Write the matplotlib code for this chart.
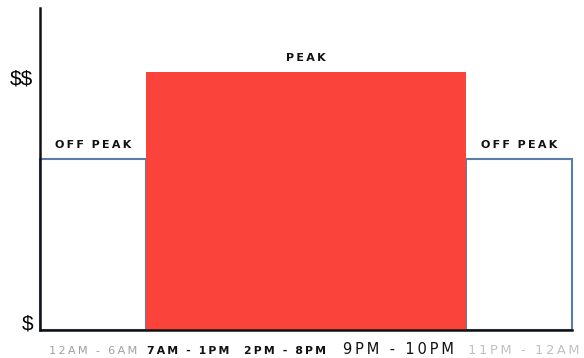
import matplotlib.pyplot as plt

plt.rcParams["text.parse_math"] = False

# time windows along the day, in plot units (0-10)
off_peak_left = (0, 2)
peak_span = (2, 8)
off_peak_right = (8, 10)

off_peak_price = 53
peak_price = 80

price_ticks = [2.5, 78.5]
price_labels = ["$", "$$"]

hour_ticks = [1.0, 2.78, 4.6, 6.73, 9.1]
hour_labels = ["12AM - 6AM", "7AM - 1PM", "2PM - 8PM", "9PM - 10PM", "11PM - 12AM"]
hour_colors = ["#a0a0a0", "#111111", "#111111", "#111111", "#c0c0c0"]
hour_sizes = [8.2, 7.8, 7.8, 10.5, 9.4]
hour_weights = ["normal", "bold", "bold", "normal", "normal"]


def spaced(s, gap="\u2009"):
    return gap.join(s)


def main():
    fig = plt.figure(figsize=(5.84, 3.58), dpi=100)
    ax = fig.add_axes([40 / 584, 28 / 358, 532 / 584, 322 / 358])

    # off peak boxes (outline only)
    for start, end in [off_peak_left, off_peak_right]:
        ax.bar(start, off_peak_price, width=end - start, align="edge",
               fill=False, edgecolor="#5b7ea8", linewidth=1.5, clip_on=False)

    # peak block
    ax.bar(peak_span[0], peak_price, width=peak_span[1] - peak_span[0],
           align="edge", color="#fa433b", linewidth=0)

    ax.set_xlim(0, 10)
    ax.set_ylim(0, 100)

    for sp in ["top", "right"]:
        ax.spines[sp].set_visible(False)
    for sp in ["left", "bottom"]:
        ax.spines[sp].set_linewidth(1.8)
        ax.spines[sp].set_color("#111111")
        ax.spines[sp].set_zorder(5)

    ax.set_yticks(price_ticks, price_labels)
    ax.tick_params(axis="y", length=0, pad=5, labelsize=15)
    for t in ax.get_yticklabels():
        t.set_family("Liberation Sans")

    # all hour labels share one baseline, like the original
    ax.set_xticks(hour_ticks, [spaced(s) for s in hour_labels])
    ax.tick_params(axis="x", length=0, pad=17)
    for t, c, s, w in zip(ax.get_xticklabels(), hour_colors, hour_sizes, hour_weights):
        t.set_color(c)
        t.set_fontsize(s)
        t.set_fontweight(w)
        t.set_verticalalignment("baseline")

    # region labels
    gap = "\u2009"
    off_text = spaced("OFF", gap) + "  " + spaced("PEAK", gap)
    ax.text(1.0, off_peak_price + 3, off_text,
            ha="center", va="bottom", fontsize=8, fontweight="bold", color="#111111")
    ax.text(5.0, peak_price + 3, spaced("PEAK", gap),
            ha="center", va="bottom", fontsize=8, fontweight="bold", color="#111111")
    ax.text(9.0, off_peak_price + 3, off_text,
            ha="center", va="bottom", fontsize=8, fontweight="bold", color="#111111")

    fig.savefig("out.png", dpi=100)


if __name__ == "__main__":
    main()
